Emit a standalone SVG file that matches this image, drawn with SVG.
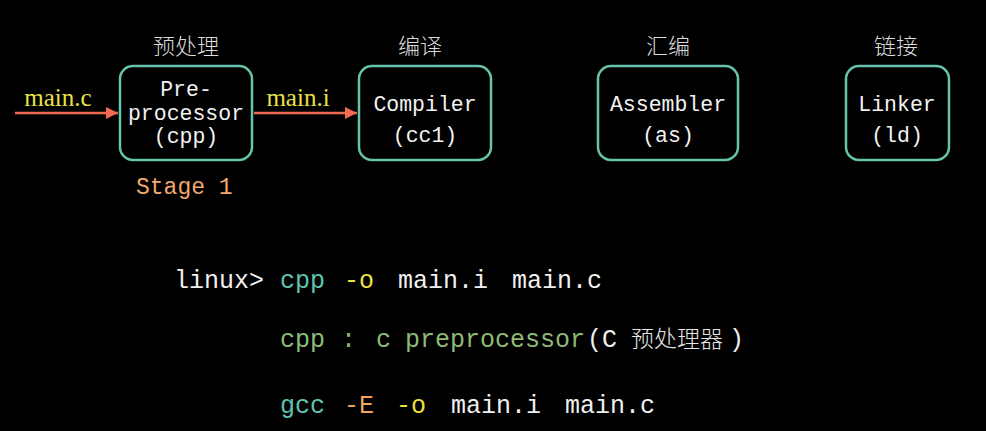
<svg xmlns="http://www.w3.org/2000/svg" width="986" height="431" viewBox="0 0 986 431">
<style>
.bg{fill:#000}
.box{fill:#000;stroke:#66c3ac;stroke-width:2.5}
.bt{font-family:"Liberation Mono","DejaVu Sans Mono",monospace;font-size:21.5px;fill:#f2f2f2;text-anchor:middle}
.cn{font-family:"Noto Sans CJK SC","Noto Sans",sans-serif;font-size:22px;font-weight:300;fill:#dcdcdc;text-anchor:middle}
.lbl{font-family:"Liberation Serif","DejaVu Serif",serif;font-size:25px;fill:#e8e24a;text-anchor:middle}
.stage{font-family:"Liberation Mono",monospace;font-size:23px;fill:#f2a86e}
.cmd{font-family:"Liberation Mono","DejaVu Sans Mono",monospace;font-size:25px;fill:#f0f0f0}
.teal{fill:#5fc3b0}
.yel{fill:#f0e23c}
.grn{fill:#8dbb78}
.org{fill:#f0a45e}
.wht{fill:#f0f0f0}
.cjk{font-family:"Noto Sans CJK SC",sans-serif;font-size:23px;font-weight:300;fill:#e6e6e6}
.arr{stroke:#f26a52;stroke-width:2.5;fill:none}
</style>
<defs>
<marker id="ah" markerWidth="12" markerHeight="12" refX="12" refY="6" orient="auto" markerUnits="userSpaceOnUse">
<path d="M0,0 L12,6 L0,12 Z" fill="#f26a52"/>
</marker>
</defs>
<rect class="bg" x="0" y="0" width="986" height="431"/>

<g id="connectors">
<line class="arr" x1="15" y1="113" x2="118" y2="113" marker-end="url(#ah)"/>
<text class="lbl" x="58" y="106">main.c</text>
<line class="arr" x1="254" y1="113" x2="357" y2="113" marker-end="url(#ah)"/>
<text class="lbl" x="298" y="106">main.i</text>
</g>

<g id="node-cpp">
<text class="cn" x="186" y="54">预处理</text>
<rect class="box" x="120" y="66" width="132" height="94" rx="13"/>
<text class="bt" x="186" y="96">Pre-</text>
<text class="bt" x="186" y="120">processor</text>
<text class="bt" x="186" y="143">(cpp)</text>
<text class="stage" x="136" y="194">Stage 1</text>
</g>

<g id="node-cc1">
<text class="cn" x="420" y="54">编译</text>
<rect class="box" x="359" y="66" width="132" height="94" rx="13"/>
<text class="bt" x="425" y="111">Compiler</text>
<text class="bt" x="425" y="142">(cc1)</text>
</g>

<g id="node-as">
<text class="cn" x="668" y="54">汇编</text>
<rect class="box" x="598" y="66" width="140" height="94" rx="13"/>
<text class="bt" x="668" y="111">Assembler</text>
<text class="bt" x="668" y="142">(as)</text>
</g>

<g id="node-ld">
<text class="cn" x="896" y="54">链接</text>
<rect class="box" x="846" y="66" width="103" height="94" rx="13"/>
<text class="bt" x="897" y="111">Linker</text>
<text class="bt" x="897" y="142">(ld)</text>
</g>

<g id="commands">
<text class="cmd" y="288"><tspan class="wht" x="174">linux&gt;</tspan><tspan class="teal" x="280">cpp</tspan><tspan class="yel" x="344">-o</tspan><tspan class="wht" x="398">main.i</tspan><tspan class="wht" x="512">main.c</tspan></text>
<text class="cmd" y="347"><tspan class="grn" x="280">cpp</tspan><tspan class="grn" x="341">:</tspan><tspan class="grn" x="376">c</tspan><tspan class="grn" x="405">preprocessor</tspan><tspan class="wht" x="587">(C</tspan><tspan class="cjk" x="631">预处理器</tspan><tspan class="wht" x="729">)</tspan></text>
<text class="cmd" y="413"><tspan class="teal" x="280">gcc</tspan><tspan class="org" x="344">-E</tspan><tspan class="yel" x="396">-o</tspan><tspan class="wht" x="451">main.i</tspan><tspan class="wht" x="565">main.c</tspan></text>
</g>
</svg>
